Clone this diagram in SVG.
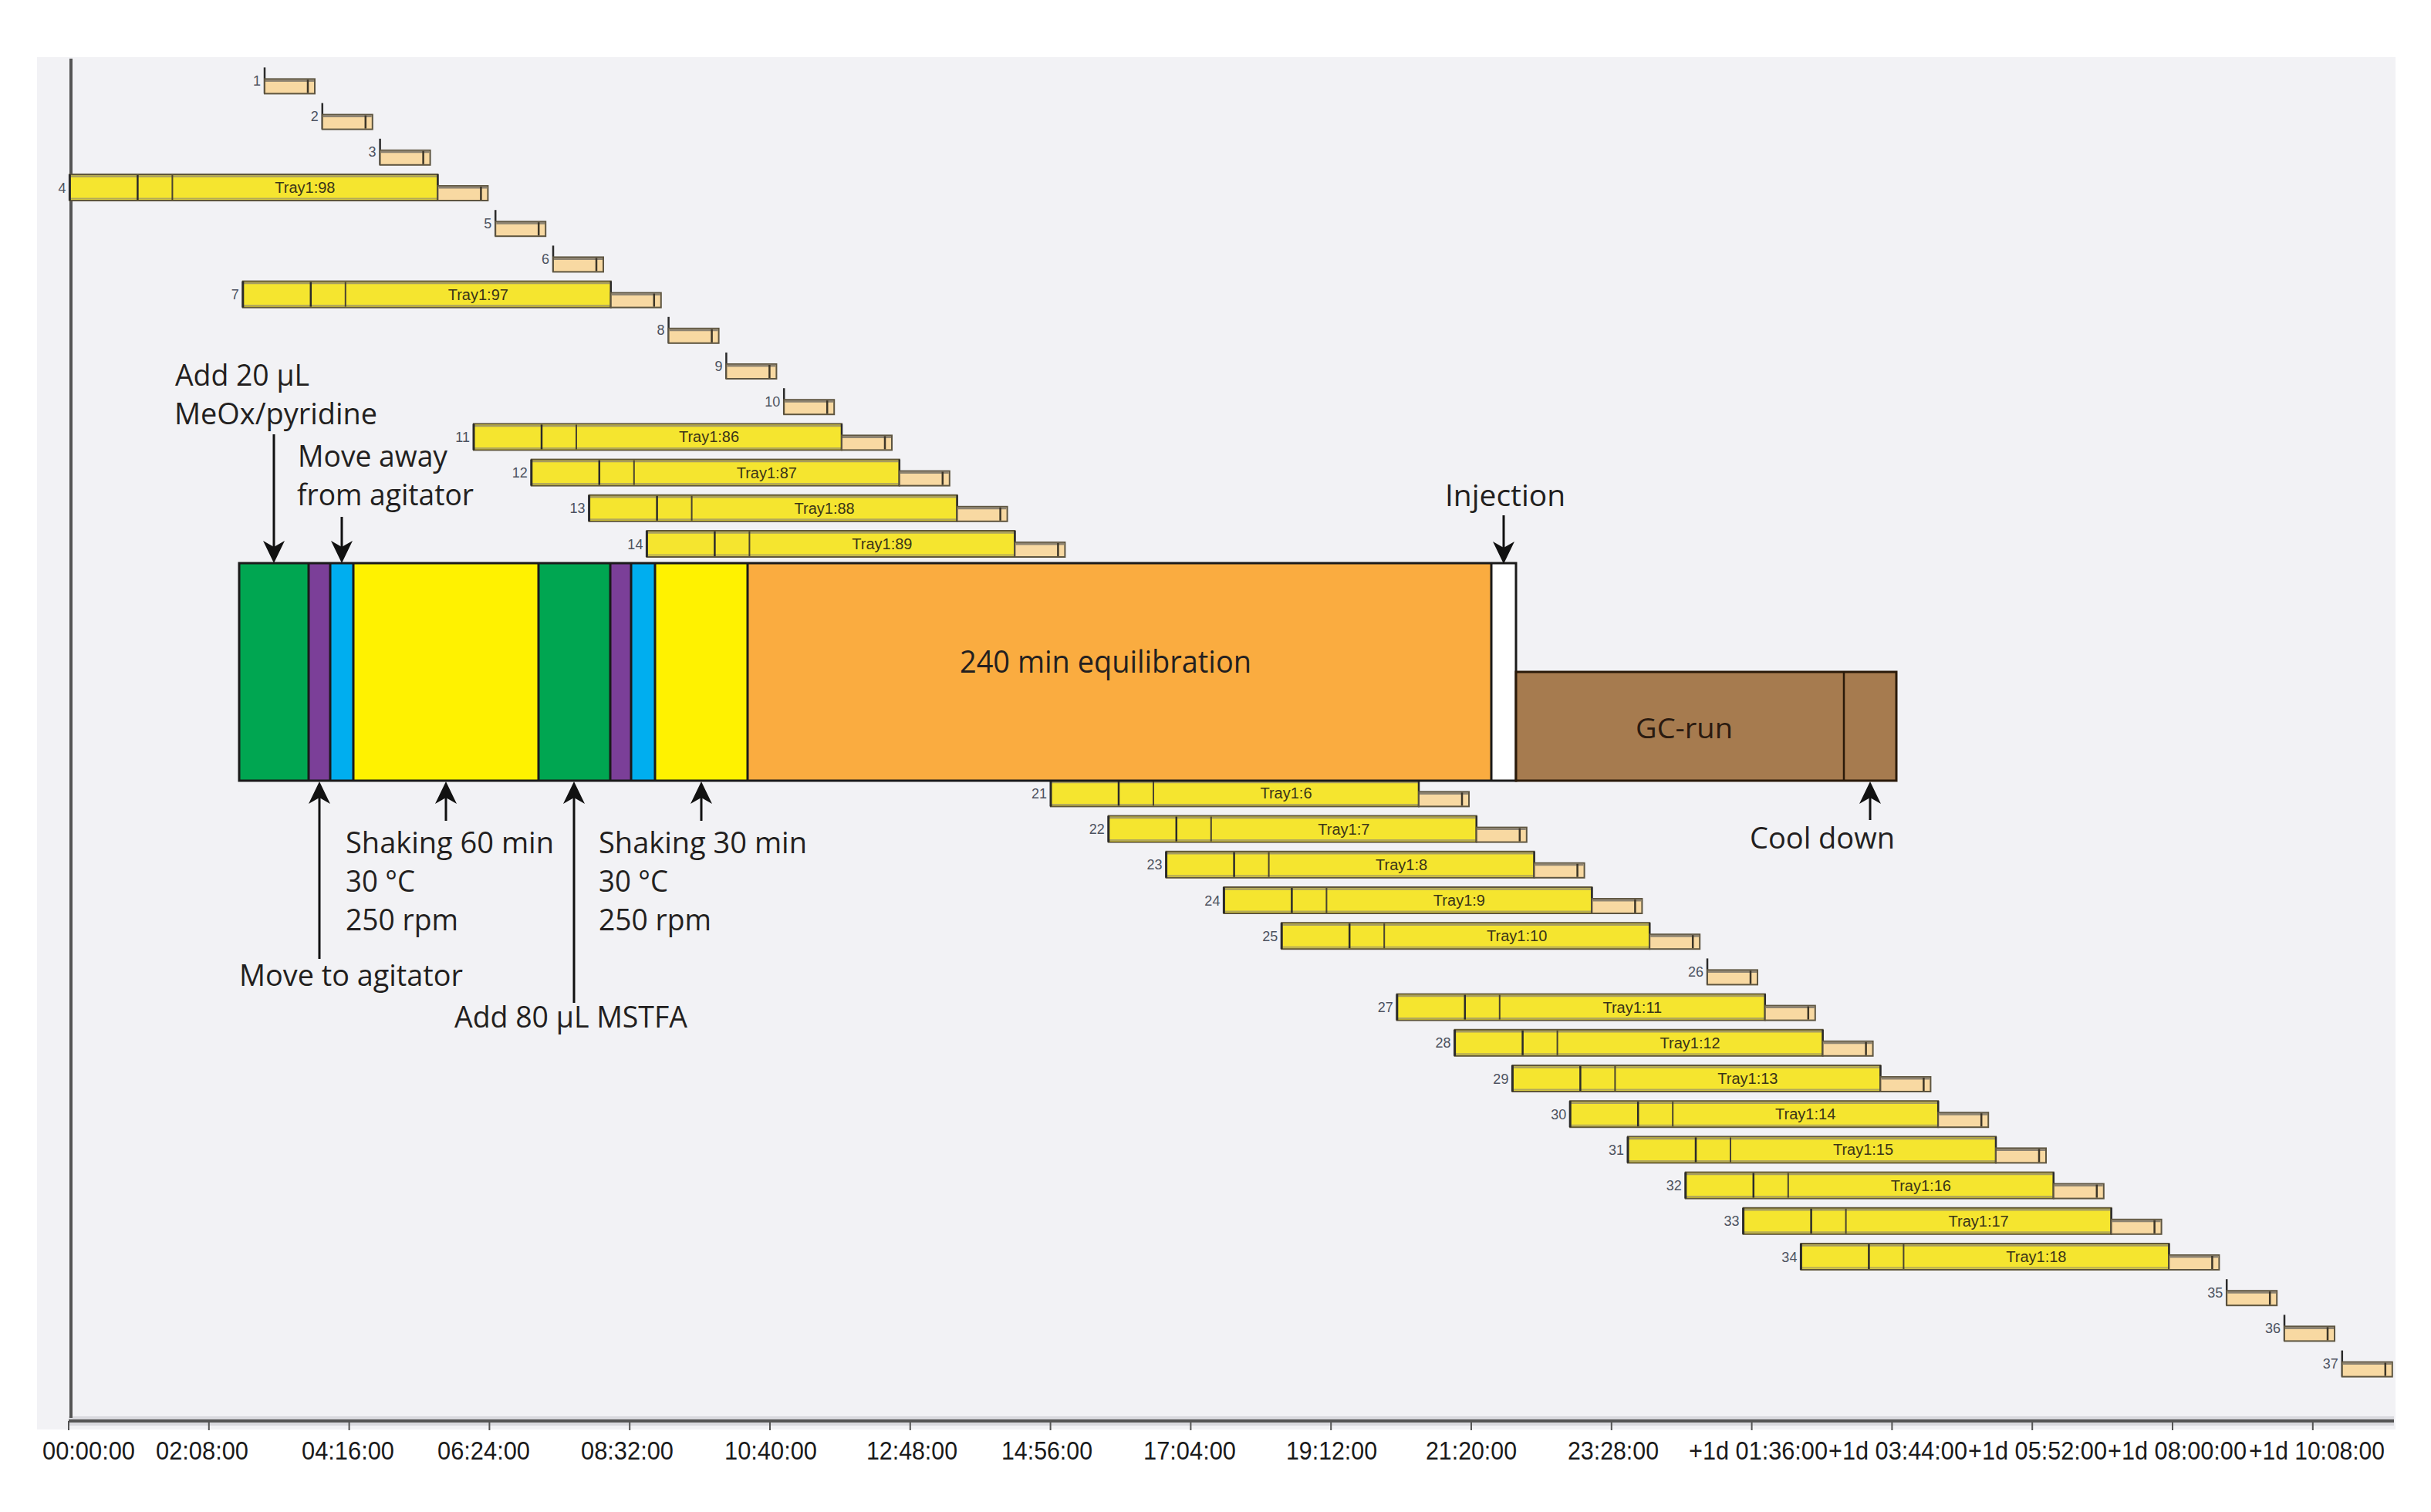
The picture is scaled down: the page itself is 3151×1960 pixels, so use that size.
<svg xmlns="http://www.w3.org/2000/svg" xmlns:xlink="http://www.w3.org/1999/xlink" width="3151" height="1960" viewBox="0 0 3151 1960">
<style>
.num{font-family:"Liberation Sans",Arial,sans-serif;font-size:18px;fill:#4d5260;text-anchor:end}
.tray{font-family:"Liberation Sans",Arial,sans-serif;font-size:20px;fill:#3a3418;text-anchor:middle}
.ax{font-family:"Liberation Sans",Arial,sans-serif;font-size:33px;fill:#1a1a1a;text-anchor:middle}
.ann{font-family:"Open Sans","Noto Sans","Liberation Sans",sans-serif;font-size:39px;fill:#231f20}
.arr{stroke:#111;stroke-width:3;fill:none;marker-end:url(#ah)}
.seg{stroke:#1a1a1a;stroke-width:3}
.tick{stroke:#555;stroke-width:2}
</style>
<defs>
<marker id="ah" markerUnits="userSpaceOnUse" markerWidth="40" markerHeight="40" viewBox="-20 -20 40 40" refX="0" refY="0" orient="auto">
<path d="M12,0 L-17,-14 L-9,0 L-17,14 Z" fill="#111"/>
</marker>
<g id="tan">
<rect x="0" y="-2" width="65" height="19" fill="#f8d9a2" stroke="#5e5540" stroke-width="2"/>
<line x1="1" y1="0" x2="64" y2="0" stroke="#8d8371" stroke-width="3"/>
<line x1="56" y1="-1" x2="56" y2="16" stroke="#3d3628" stroke-width="2.5"/>
</g>
<g id="ySample">
<rect x="-477" y="-17" width="477" height="34" fill="#f5e52f" stroke="#5f5638" stroke-width="2"/>
<line x1="-476" y1="-14.5" x2="-1" y2="-14.5" stroke="#a69c62" stroke-width="2.5"/>
<line x1="-476" y1="14.5" x2="-1" y2="14.5" stroke="#b3a95a" stroke-width="2"/>
<line x1="-477" y1="-17" x2="-477" y2="17" stroke="#2b2b2b" stroke-width="3"/>
<line x1="-389" y1="-16" x2="-389" y2="16" stroke="#2b2b2b" stroke-width="2.5"/>
<line x1="-344" y1="-16" x2="-344" y2="16" stroke="#4a4430" stroke-width="2"/>
<line x1="0" y1="-17" x2="0" y2="17" stroke="#2b2b2b" stroke-width="2.5"/>
<use xlink:href="#tan"/>
</g>
<g id="tSample">
<line x1="0" y1="-17" x2="0" y2="17" stroke="#2b2b2b" stroke-width="2.5"/>
<use xlink:href="#tan"/>
</g>
</defs>

<rect x="0" y="0" width="3151" height="1960" fill="#ffffff"/>
<rect id="plot-area" x="48" y="74" width="3057" height="1779" fill="#f2f2f5"/>

<g id="axes">
<rect x="89" y="1836" width="3014" height="12" fill="#d9d9de"/>
<line x1="89" y1="1842" x2="3103" y2="1842" stroke="#555" stroke-width="4"/>
<line x1="92" y1="76" x2="92" y2="1838" stroke="#555" stroke-width="4"/>
<g class="tick">
<line x1="89" y1="1842" x2="89" y2="1854"/>
<line x1="270.8" y1="1842" x2="270.8" y2="1854"/>
<line x1="452.6" y1="1842" x2="452.6" y2="1854"/>
<line x1="634.4" y1="1842" x2="634.4" y2="1854"/>
<line x1="816.2" y1="1842" x2="816.2" y2="1854"/>
<line x1="998" y1="1842" x2="998" y2="1854"/>
<line x1="1179.8" y1="1842" x2="1179.8" y2="1854"/>
<line x1="1361.6" y1="1842" x2="1361.6" y2="1854"/>
<line x1="1543.4" y1="1842" x2="1543.4" y2="1854"/>
<line x1="1725.2" y1="1842" x2="1725.2" y2="1854"/>
<line x1="1907" y1="1842" x2="1907" y2="1854"/>
<line x1="2088.8" y1="1842" x2="2088.8" y2="1854"/>
<line x1="2270.6" y1="1842" x2="2270.6" y2="1854"/>
<line x1="2452.4" y1="1842" x2="2452.4" y2="1854"/>
<line x1="2634.2" y1="1842" x2="2634.2" y2="1854"/>
<line x1="2816" y1="1842" x2="2816" y2="1854"/>
<line x1="2997.8" y1="1842" x2="2997.8" y2="1854"/>
</g>
<g id="axis-labels">
<text class="ax" x="55" y="1892" style="text-anchor:start" textLength="120" lengthAdjust="spacingAndGlyphs">00:00:00</text>
<text class="ax" x="262" y="1892" textLength="120" lengthAdjust="spacingAndGlyphs">02:08:00</text>
<text class="ax" x="451" y="1892" textLength="120" lengthAdjust="spacingAndGlyphs">04:16:00</text>
<text class="ax" x="627" y="1892" textLength="120" lengthAdjust="spacingAndGlyphs">06:24:00</text>
<text class="ax" x="813" y="1892" textLength="120" lengthAdjust="spacingAndGlyphs">08:32:00</text>
<text class="ax" x="999" y="1892" textLength="120" lengthAdjust="spacingAndGlyphs">10:40:00</text>
<text class="ax" x="1182" y="1892" textLength="118" lengthAdjust="spacingAndGlyphs">12:48:00</text>
<text class="ax" x="1357" y="1892" textLength="118" lengthAdjust="spacingAndGlyphs">14:56:00</text>
<text class="ax" x="1542" y="1892" textLength="120" lengthAdjust="spacingAndGlyphs">17:04:00</text>
<text class="ax" x="1726" y="1892" textLength="118" lengthAdjust="spacingAndGlyphs">19:12:00</text>
<text class="ax" x="1907" y="1892" textLength="118" lengthAdjust="spacingAndGlyphs">21:20:00</text>
<text class="ax" x="2091" y="1892" textLength="118" lengthAdjust="spacingAndGlyphs">23:28:00</text>
<text class="ax" x="2279" y="1892" textLength="180" lengthAdjust="spacingAndGlyphs">+1d 01:36:00</text>
<text class="ax" x="2460" y="1892" textLength="180" lengthAdjust="spacingAndGlyphs">+1d 03:44:00</text>
<text class="ax" x="2641" y="1892" textLength="180" lengthAdjust="spacingAndGlyphs">+1d 05:52:00</text>
<text class="ax" x="2822" y="1892" textLength="180" lengthAdjust="spacingAndGlyphs">+1d 08:00:00</text>
<text class="ax" x="3003" y="1892" textLength="176" lengthAdjust="spacingAndGlyphs">+1d 10:08:00</text>
</g>
</g>

<g id="samples">
<g id="row1" transform="translate(343,104.4)"><use xlink:href="#tSample"/><text class="num" x="-5" y="6.5">1</text></g>
<g id="row2" transform="translate(417.8,150.6)"><use xlink:href="#tSample"/><text class="num" x="-5" y="6.5">2</text></g>
<g id="row3" transform="translate(492.6,196.8)"><use xlink:href="#tSample"/><text class="num" x="-5" y="6.5">3</text></g>
<g id="row4" transform="translate(567.4,243)"><use xlink:href="#ySample"/><text class="tray" x="-172" y="7">Tray1:98</text><text class="num" x="-482" y="6.5">4</text></g>
<g id="row5" transform="translate(642.2,289.2)"><use xlink:href="#tSample"/><text class="num" x="-5" y="6.5">5</text></g>
<g id="row6" transform="translate(717,335.4)"><use xlink:href="#tSample"/><text class="num" x="-5" y="6.5">6</text></g>
<g id="row7" transform="translate(791.8,381.6)"><use xlink:href="#ySample"/><text class="tray" x="-172" y="7">Tray1:97</text><text class="num" x="-482" y="6.5">7</text></g>
<g id="row8" transform="translate(866.6,427.8)"><use xlink:href="#tSample"/><text class="num" x="-5" y="6.5">8</text></g>
<g id="row9" transform="translate(941.4,474)"><use xlink:href="#tSample"/><text class="num" x="-5" y="6.5">9</text></g>
<g id="row10" transform="translate(1016.2,520.2)"><use xlink:href="#tSample"/><text class="num" x="-5" y="6.5">10</text></g>
<g id="row11" transform="translate(1091,566.4)"><use xlink:href="#ySample"/><text class="tray" x="-172" y="7">Tray1:86</text><text class="num" x="-482" y="6.5">11</text></g>
<g id="row12" transform="translate(1165.8,612.6)"><use xlink:href="#ySample"/><text class="tray" x="-172" y="7">Tray1:87</text><text class="num" x="-482" y="6.5">12</text></g>
<g id="row13" transform="translate(1240.6,658.8)"><use xlink:href="#ySample"/><text class="tray" x="-172" y="7">Tray1:88</text><text class="num" x="-482" y="6.5">13</text></g>
<g id="row14" transform="translate(1315.4,705)"><use xlink:href="#ySample"/><text class="tray" x="-172" y="7">Tray1:89</text><text class="num" x="-482" y="6.5">14</text></g>
<g id="row21" transform="translate(1839,1028.4)"><use xlink:href="#ySample"/><text class="tray" x="-172" y="7">Tray1:6</text><text class="num" x="-482" y="6.5">21</text></g>
<g id="row22" transform="translate(1913.8,1074.6)"><use xlink:href="#ySample"/><text class="tray" x="-172" y="7">Tray1:7</text><text class="num" x="-482" y="6.5">22</text></g>
<g id="row23" transform="translate(1988.6,1120.8)"><use xlink:href="#ySample"/><text class="tray" x="-172" y="7">Tray1:8</text><text class="num" x="-482" y="6.5">23</text></g>
<g id="row24" transform="translate(2063.4,1167)"><use xlink:href="#ySample"/><text class="tray" x="-172" y="7">Tray1:9</text><text class="num" x="-482" y="6.5">24</text></g>
<g id="row25" transform="translate(2138.2,1213.2)"><use xlink:href="#ySample"/><text class="tray" x="-172" y="7">Tray1:10</text><text class="num" x="-482" y="6.5">25</text></g>
<g id="row26" transform="translate(2213,1259.4)"><use xlink:href="#tSample"/><text class="num" x="-5" y="6.5">26</text></g>
<g id="row27" transform="translate(2287.8,1305.6)"><use xlink:href="#ySample"/><text class="tray" x="-172" y="7">Tray1:11</text><text class="num" x="-482" y="6.5">27</text></g>
<g id="row28" transform="translate(2362.6,1351.8)"><use xlink:href="#ySample"/><text class="tray" x="-172" y="7">Tray1:12</text><text class="num" x="-482" y="6.5">28</text></g>
<g id="row29" transform="translate(2437.4,1398)"><use xlink:href="#ySample"/><text class="tray" x="-172" y="7">Tray1:13</text><text class="num" x="-482" y="6.5">29</text></g>
<g id="row30" transform="translate(2512.2,1444.2)"><use xlink:href="#ySample"/><text class="tray" x="-172" y="7">Tray1:14</text><text class="num" x="-482" y="6.5">30</text></g>
<g id="row31" transform="translate(2587,1490.4)"><use xlink:href="#ySample"/><text class="tray" x="-172" y="7">Tray1:15</text><text class="num" x="-482" y="6.5">31</text></g>
<g id="row32" transform="translate(2661.8,1536.6)"><use xlink:href="#ySample"/><text class="tray" x="-172" y="7">Tray1:16</text><text class="num" x="-482" y="6.5">32</text></g>
<g id="row33" transform="translate(2736.6,1582.8)"><use xlink:href="#ySample"/><text class="tray" x="-172" y="7">Tray1:17</text><text class="num" x="-482" y="6.5">33</text></g>
<g id="row34" transform="translate(2811.4,1629)"><use xlink:href="#ySample"/><text class="tray" x="-172" y="7">Tray1:18</text><text class="num" x="-482" y="6.5">34</text></g>
<g id="row35" transform="translate(2886.2,1675.2)"><use xlink:href="#tSample"/><text class="num" x="-5" y="6.5">35</text></g>
<g id="row36" transform="translate(2961,1721.4)"><use xlink:href="#tSample"/><text class="num" x="-5" y="6.5">36</text></g>
<g id="row37" transform="translate(3035.8,1767.6)"><use xlink:href="#tSample"/><text class="num" x="-5" y="6.5">37</text></g>
</g>

<g id="main-bar">
<rect x="310" y="730" width="90" height="282" fill="#00a651"/>
<rect x="400" y="730" width="28" height="282" fill="#7b3f98"/>
<rect x="428" y="730" width="30" height="282" fill="#00aeef"/>
<rect x="458" y="730" width="240" height="282" fill="#fff200"/>
<rect x="698" y="730" width="93" height="282" fill="#00a651"/>
<rect x="791" y="730" width="27" height="282" fill="#7b3f98"/>
<rect x="818" y="730" width="31" height="282" fill="#00aeef"/>
<rect x="849" y="730" width="120" height="282" fill="#fff200"/>
<rect x="969" y="730" width="964" height="282" fill="#faac40"/>
<rect x="1933" y="730" width="32" height="282" fill="#ffffff"/>
<g class="seg">
<line x1="400" y1="730" x2="400" y2="1012"/>
<line x1="428" y1="730" x2="428" y2="1012"/>
<line x1="458" y1="730" x2="458" y2="1012"/>
<line x1="698" y1="730" x2="698" y2="1012"/>
<line x1="791" y1="730" x2="791" y2="1012"/>
<line x1="818" y1="730" x2="818" y2="1012"/>
<line x1="849" y1="730" x2="849" y2="1012"/>
<line x1="969" y1="730" x2="969" y2="1012"/>
<line x1="1933" y1="730" x2="1933" y2="1012"/>
</g>
<rect x="310" y="730" width="1655" height="282" fill="none" stroke="#1a1a1a" stroke-width="3"/>
<text class="ann" x="1433" y="872" text-anchor="middle" style="font-size:40px" textLength="378" lengthAdjust="spacingAndGlyphs">240 min equilibration</text>
</g>

<g id="gc-run">
<rect x="1965" y="871" width="493" height="141" fill="#a67b4f" stroke="#2a1a0a" stroke-width="3"/>
<line x1="2390" y1="871" x2="2390" y2="1012" stroke="#2a1a0a" stroke-width="2.5"/>
<text class="ann" x="2183" y="957" text-anchor="middle" style="font-size:36px;fill:#2a1a10" textLength="126" lengthAdjust="spacingAndGlyphs">GC-run</text>
</g>

<g id="labels">
<text class="ann" x="227" y="500" textLength="174" lengthAdjust="spacingAndGlyphs">Add 20 µL</text>
<text class="ann" x="226" y="550" textLength="263" lengthAdjust="spacingAndGlyphs">MeOx/pyridine</text>
<text class="ann" x="386" y="605" textLength="194" lengthAdjust="spacingAndGlyphs">Move away</text>
<text class="ann" x="385" y="655" textLength="229" lengthAdjust="spacingAndGlyphs">from agitator</text>
<text class="ann" x="1873" y="656" textLength="156" lengthAdjust="spacingAndGlyphs">Injection</text>
<text class="ann" x="448" y="1106" textLength="270" lengthAdjust="spacingAndGlyphs">Shaking 60 min</text>
<text class="ann" x="448" y="1156" textLength="90" lengthAdjust="spacingAndGlyphs">30 °C</text>
<text class="ann" x="448" y="1206" textLength="146" lengthAdjust="spacingAndGlyphs">250 rpm</text>
<text class="ann" x="776" y="1106" textLength="270" lengthAdjust="spacingAndGlyphs">Shaking 30 min</text>
<text class="ann" x="776" y="1156" textLength="90" lengthAdjust="spacingAndGlyphs">30 °C</text>
<text class="ann" x="776" y="1206" textLength="146" lengthAdjust="spacingAndGlyphs">250 rpm</text>
<text class="ann" x="310" y="1278" textLength="290" lengthAdjust="spacingAndGlyphs">Move to agitator</text>
<text class="ann" x="589" y="1332" textLength="302" lengthAdjust="spacingAndGlyphs">Add 80 µL MSTFA</text>
<text class="ann" x="2268" y="1100" textLength="188" lengthAdjust="spacingAndGlyphs">Cool down</text>
</g>

<g id="connectors">
<line class="arr" x1="355" y1="563" x2="355" y2="718"/>
<line class="arr" x1="443" y1="670" x2="443" y2="718"/>
<line class="arr" x1="1949" y1="668" x2="1949" y2="719"/>
<line class="arr" x1="414" y1="1243" x2="414" y2="1025"/>
<line class="arr" x1="578" y1="1064" x2="578" y2="1025"/>
<line class="arr" x1="744" y1="1300" x2="744" y2="1025"/>
<line class="arr" x1="909" y1="1064" x2="909" y2="1025"/>
<line class="arr" x1="2424" y1="1063" x2="2424" y2="1025"/>
</g>
</svg>
